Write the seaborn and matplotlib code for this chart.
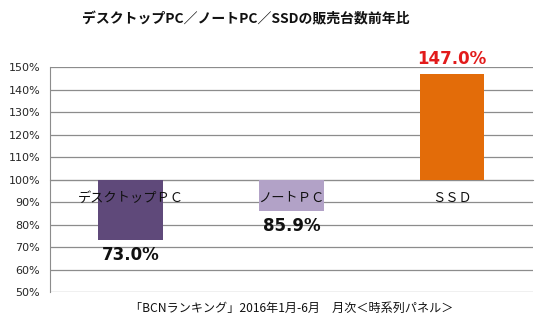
import matplotlib
matplotlib.use("Agg")
import matplotlib.pyplot as plt
import seaborn as sns
import pandas as pd
from matplotlib.ticker import FixedLocator

sns.set_style("white")
plt.rcParams['font.family'] = ['Noto Sans CJK JP', 'DejaVu Sans']

categories = ["デスクトップＰＣ", "ノートＰＣ", "ＳＳＤ"]
values = [73.0, 85.9, 147.0]
value_labels = ["73.0%", "85.9%", "147.0%"]
bar_colors = ["#5f497a", "#b2a2c7", "#e36c09"]
label_colors = ["#111111", "#111111", "#e21b1b"]
yticks = [50, 60, 70, 80, 90, 100, 110, 120, 130, 140, 150]
ytick_labels = [f"{v}%" for v in yticks]
baseline = 100
title = "デスクトップPC／ノートPC／SSDの販売台数前年比"
footer = "「BCNランキング」2016年1月-6月　月次＜時系列パネル＞"

df = pd.DataFrame({"cat": categories, "delta": [v - baseline for v in values]})

fig = plt.figure(figsize=(5.4, 3.27), dpi=100)
ax = fig.add_axes([0.0926, 0.107, 0.894, 0.688])

sns.barplot(data=df, x="cat", y="delta", hue="cat", palette=bar_colors,
            width=0.4, bottom=baseline, legend=False, ax=ax, zorder=3,
            saturation=1, linewidth=0, edgecolor="none")

ax.set_ylim(50, 150)
ax.set_xlim(-0.5, 2.5)
ax.set_yticks(yticks)
ax.set_yticklabels(ytick_labels, fontsize=8, family=['DejaVu Sans'])
ax.set_xlabel("")
ax.set_ylabel("")
ax.grid(axis="y", color="#8c8c8c", linewidth=0.9, zorder=0)
ax.set_axisbelow(True)
ax.xaxis.set_zorder(5)

for s in ["top", "right"]:
    ax.spines[s].set_visible(False)
ax.spines["left"].set_color("#8c8c8c")
ax.spines["bottom"].set_color("#8c8c8c")
ax.spines["bottom"].set_position(("data", baseline))
ax.spines["bottom"].set_zorder(2)
ax.tick_params(axis="y", length=4, color="#8c8c8c", direction="out", pad=3)
ax.tick_params(axis="x", length=0, pad=9, labelsize=9.5, labelcolor="#111111")
ax.xaxis.set_minor_locator(FixedLocator([0.5, 1.5]))
ax.tick_params(axis="x", which="minor", length=3, direction="in", color="#8c8c8c")

for i, (v, lab, c) in enumerate(zip(values, value_labels, label_colors)):
    if v < baseline:
        ax.text(i, v - 2.5, lab, ha="center", va="top", fontsize=12,
                fontweight="bold", color=c, family=['DejaVu Sans'])
    else:
        ax.text(i, v + 2.5, lab, ha="center", va="bottom", fontsize=12,
                fontweight="bold", color=c, family=['DejaVu Sans'])

fig.text(0.455, 0.94, title, ha="center", va="center", fontsize=10,
         fontweight="bold", color="#111111")
fig.text(0.54, 0.058, footer, ha="center", va="center", fontsize=8.7,
         color="#111111")

fig.savefig("out.png", dpi=100)
